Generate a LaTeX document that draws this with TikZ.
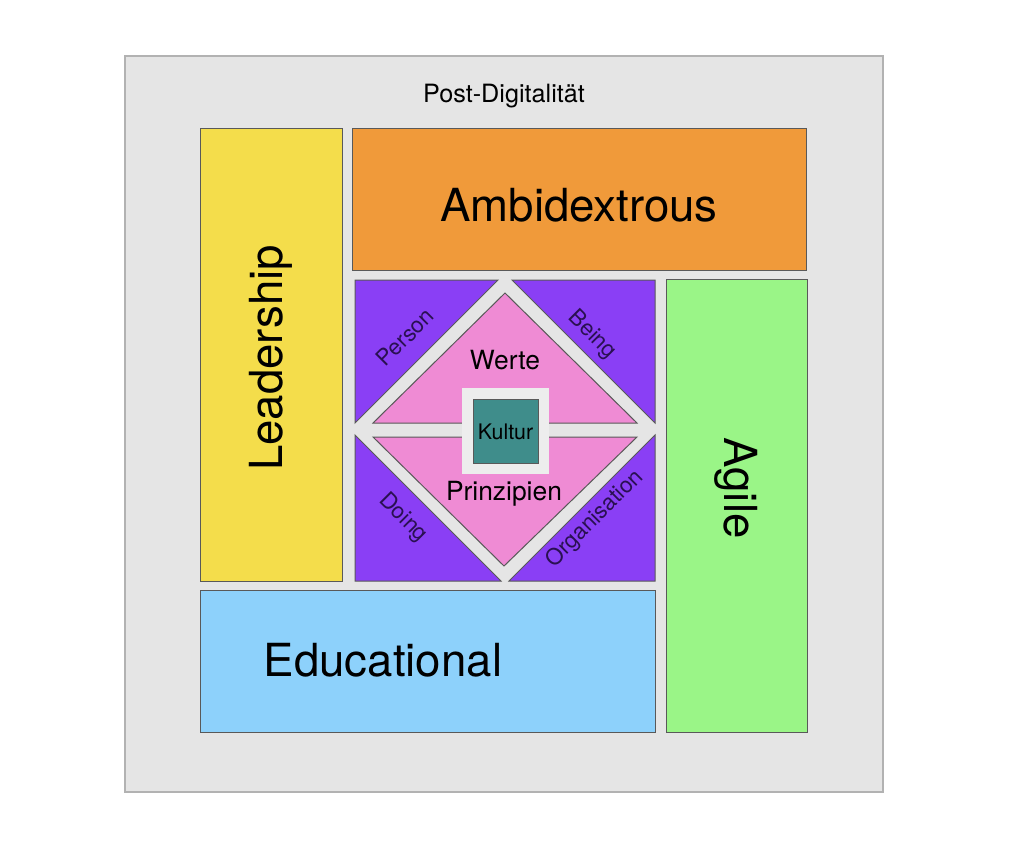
\documentclass[tikz,border=0pt]{standalone}
\usepackage{fontspec}
\setmainfont{TeX Gyre Heros}
\definecolor{framegray}{HTML}{E5E5E5}
\definecolor{leadyellow}{HTML}{F4DD4B}
\definecolor{ambiorange}{HTML}{F09A3A}
\definecolor{agilegreen}{HTML}{9AF587}
\definecolor{edublue}{HTML}{8DD1FB}
\definecolor{cornerpurple}{HTML}{8A3FF5}
\definecolor{valuepink}{HTML}{EF8BD4}
\definecolor{kulturteal}{HTML}{3F8D8B}
\definecolor{cornertext}{HTML}{2A1052}

\begin{document}
\begin{tikzpicture}[x=0.5pt,y=-0.5pt,
  box/.style={draw=black!65, line width=0.5pt},
  big/.style={font=\fontsize{22.8}{27}\selectfont, inner sep=0pt},
  mid/.style={font=\fontsize{13.2}{16}\selectfont, inner sep=0pt},
  small/.style={font=\fontsize{11.2}{13}\selectfont, inner sep=0pt, text=cornertext}]
  \useasboundingbox (0,0) rectangle (1024,853);
  %
  \draw[fill=framegray, draw=black!30, line width=0.75pt] (125,56) rectangle (883,792);
  \node (post) [font=\fontsize{12.6}{15}\selectfont, inner sep=0pt] at (504,96) {Post-Digitalität};
  %
  \draw[box, fill=leadyellow] (200,128) rectangle (342,581);
  \draw[box, fill=ambiorange] (352,128) rectangle (806,270);
  \draw[box, fill=agilegreen] (666,279) rectangle (807,732);
  \draw[box, fill=edublue]    (200,590) rectangle (655,732);
  \node (lead) [big, rotate=90]  at (271,358) {Leadership};
  \node (ambi) [big]             at (579,205) {Ambidextrous};
  \node (agile) [big, rotate=-90] at (736,488) {Agile};
  \node (edu) [big]              at (383,660) {Educational};
  %
  \draw[box, fill=cornerpurple] (355,280) -- (498,280) -- (355,423) -- cycle;
  \draw[box, fill=cornerpurple] (655,280) -- (512,280) -- (655,423) -- cycle;
  \draw[box, fill=cornerpurple] (355,581) -- (501,581) -- (355,435) -- cycle;
  \draw[box, fill=cornerpurple] (655,581) -- (509,581) -- (655,435) -- cycle;
  \node (person) [small, rotate=45]  at (405,337) {Person};
  \node (being) [small, rotate=-45]  at (592,335) {Being};
  \node (doing) [small, rotate=-45]  at (403,518) {Doing};
  \node (orga) [small, rotate=45]    at (595,519) {Organisation};
  %
  \draw[box, fill=valuepink] (505,293) -- (637,423) -- (373,423) -- cycle;
  \draw[box, fill=valuepink] (373,437) -- (637,437) -- (504,566) -- cycle;
  \node (werte) [mid] at (505,360) {Werte};
  \node (prinz) [mid] at (504,494) {Prinzipien};
  %
  \fill[black!7] (462,388) rectangle (549,474);
  \draw[box, fill=kulturteal] (473,399) rectangle (538,463);
  \node (kultur) [font=\fontsize{10.7}{13}\selectfont, inner sep=0pt] at (505.5,432) {Kultur};
\end{tikzpicture}
\end{document}
